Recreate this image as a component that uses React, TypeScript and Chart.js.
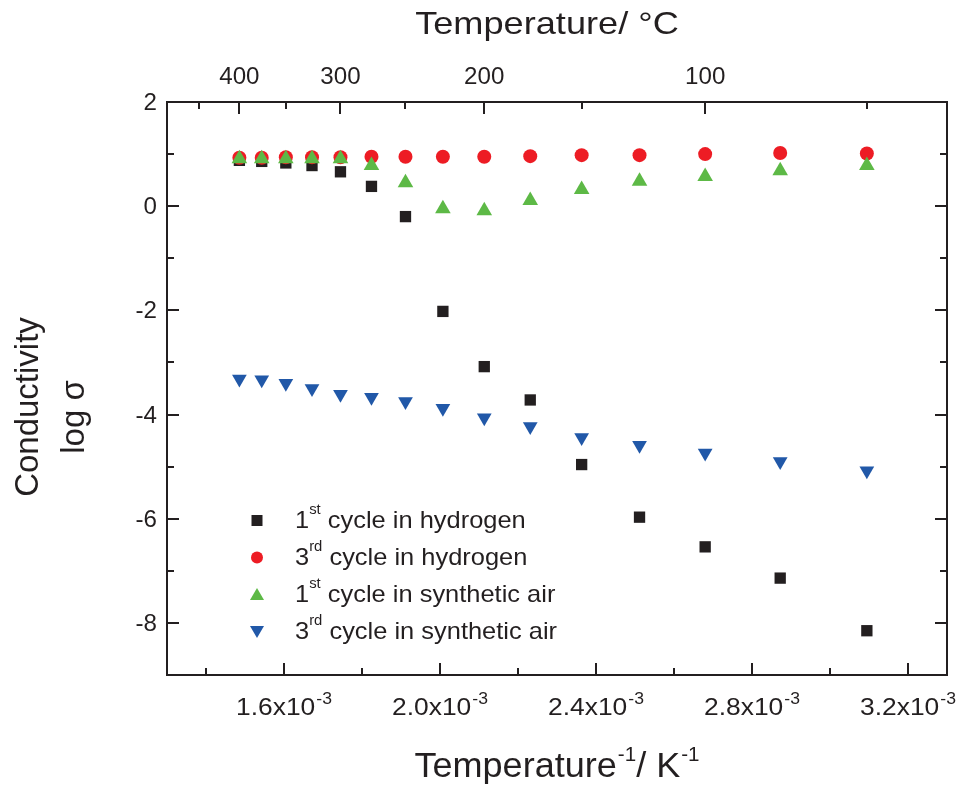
import React, { useEffect, useRef } from 'react';
import { Chart, registerables } from 'chart.js';

Chart.register(...registerables);

// Temperatures of the measurement points (°C) and the matching inverse temperature (10^-3 K^-1)
const TEMPS_C = [400, 375, 350, 325, 300, 275, 250, 225, 200, 175, 150, 125, 100, 75, 50];
const INV_T = [1.4856, 1.5429, 1.6047, 1.6718, 1.7448, 1.8243, 1.9115, 2.0074, 2.1135, 2.2314, 2.3632, 2.5116, 2.6799, 2.8723, 3.0945];

// log sigma series
const H2_CYCLE1 = [0.88, 0.86, 0.83, 0.78, 0.66, 0.38, -0.2, -2.02, -3.08, -3.72, -4.96, -5.97, -6.54, -7.14, -8.15];
const H2_CYCLE3 = [0.93, 0.93, 0.94, 0.94, 0.94, 0.95, 0.95, 0.95, 0.95, 0.96, 0.98, 0.98, 1.0, 1.02, 1.01];
const AIR_CYCLE1 = [0.91, 0.91, 0.91, 0.91, 0.91, 0.78, 0.45, -0.05, -0.09, 0.11, 0.32, 0.48, 0.57, 0.68, 0.78];
const AIR_CYCLE3 = [-3.32, -3.33, -3.4, -3.5, -3.61, -3.67, -3.75, -3.88, -4.06, -4.23, -4.44, -4.59, -4.74, -4.9, -5.08];

// Axis ticks
const BOTTOM_TICKS = [1.4, 1.6, 1.8, 2.0, 2.2, 2.4, 2.6, 2.8, 3.0, 3.2];
const BOTTOM_LABELS = ['', '1.6', '', '2.0', '', '2.4', '', '2.8', '', '3.2'];
const TOP_TICK_TEMPS = [450, 400, 350, 300, 250, 200, 150, 100, 50];
const TOP_TICK_POS = [1.3829, 1.4856, 1.6047, 1.7448, 1.9115, 2.1135, 2.3632, 2.6799, 3.0945];
const TOP_LABELS = ['', '400', '', '300', '', '200', '', '100', ''];
const Y_TICKS = [2, 1, 0, -1, -2, -3, -4, -5, -6, -7, -8, -9];
const Y_LABELS = ['2', '', '0', '', '-2', '', '-4', '', '-6', '', '-8', ''];

const LEGEND_ITEMS = [
  { n: '1', sup: 'st', rest: 'cycle in hydrogen', shape: 'rect', color: '#231f20' },
  { n: '3', sup: 'rd', rest: 'cycle in hydrogen', shape: 'circle', color: '#ed1c24' },
  { n: '1', sup: 'st', rest: 'cycle in synthetic air', shape: 'tri', color: '#5db946' },
  { n: '3', sup: 'rd', rest: 'cycle in synthetic air', shape: 'tridown', color: '#2158a8' },
];

const FONT = '"Liberation Sans", Arial, Helvetica, sans-serif';
const INK = '#231f20';

type Part = { text: string; sup?: boolean; gap?: number };

function drawRich(
  ctx: CanvasRenderingContext2D,
  parts: Part[],
  x: number,
  y: number,
  align: 'left' | 'center' | 'right',
  size: number,
  supSize: number,
  raise: number,
  stretch = 1
) {
  ctx.save();
  ctx.textAlign = 'left';
  ctx.textBaseline = 'alphabetic';
  let total = 0;
  const widths = parts.map((p) => {
    ctx.font = `${p.sup ? supSize : size}px ${FONT}`;
    const w = ctx.measureText(p.text).width;
    total += w + (p.gap || 0);
    return w;
  });
  const scaled = total * stretch;
  const startX = align === 'center' ? x - scaled / 2 : align === 'right' ? x - scaled : x;
  ctx.translate(startX, y);
  ctx.scale(stretch, 1);
  let cx = 0;
  parts.forEach((p, i) => {
    cx += p.gap || 0;
    ctx.font = `${p.sup ? supSize : size}px ${FONT}`;
    ctx.fillText(p.text, cx, p.sup ? -raise : 0);
    cx += widths[i];
  });
  ctx.restore();
}

function drawMarker(ctx: CanvasRenderingContext2D, shape: string, x: number, y: number, color: string) {
  ctx.fillStyle = color;
  ctx.beginPath();
  if (shape === 'rect') {
    ctx.rect(x - 5.5, y - 5.5, 11, 11);
  } else if (shape === 'circle') {
    ctx.arc(x, y, 6, 0, Math.PI * 2);
  } else if (shape === 'tri') {
    ctx.moveTo(x, y - 6.5);
    ctx.lineTo(x + 7, y + 5.5);
    ctx.lineTo(x - 7, y + 5.5);
    ctx.closePath();
  } else {
    ctx.moveTo(x, y + 6.5);
    ctx.lineTo(x + 7, y - 5.5);
    ctx.lineTo(x - 7, y - 5.5);
    ctx.closePath();
  }
  ctx.fill();
}

const decorPlugin = {
  id: 'decor',
  afterDraw(chart: any) {
    const ctx: CanvasRenderingContext2D = chart.ctx;
    const { left, right, top, bottom } = chart.chartArea;
    const sx = chart.scales.x;
    const sx2 = chart.scales.x2;
    const sy = chart.scales.y;
    const sy2 = chart.scales.y2;
    ctx.save();
    ctx.strokeStyle = INK;
    ctx.fillStyle = INK;
    ctx.lineWidth = 2;
    // frame
    ctx.strokeRect(left, top, right - left, bottom - top);
    // ticks
    ctx.beginPath();
    sx.ticks.forEach((t: any, i: number) => {
      const px = Math.round(sx.getPixelForTick(i));
      const len = BOTTOM_LABELS[i] ? 12 : 7;
      ctx.moveTo(px, bottom);
      ctx.lineTo(px, bottom - len);
    });
    sx2.ticks.forEach((t: any, i: number) => {
      const px = Math.round(sx2.getPixelForTick(i));
      const len = TOP_LABELS[i] ? 12 : 7;
      ctx.moveTo(px, top);
      ctx.lineTo(px, top + len);
    });
    sy.ticks.forEach((t: any, i: number) => {
      const py = Math.round(sy.getPixelForTick(i));
      const len = Y_LABELS[i] ? 12 : 7;
      ctx.moveTo(left, py);
      ctx.lineTo(left + len, py);
    });
    sy2.ticks.forEach((t: any, i: number) => {
      const py = Math.round(sy2.getPixelForTick(i));
      const len = Y_LABELS[i] ? 12 : 7;
      ctx.moveTo(right, py);
      ctx.lineTo(right - len, py);
    });
    ctx.stroke();

    // tick labels
    sx.ticks.forEach((t: any, i: number) => {
      if (!BOTTOM_LABELS[i]) return;
      const px = sx.getPixelForTick(i);
      drawRich(ctx, [{ text: BOTTOM_LABELS[i] + 'x10' }, { text: '-3', sup: true, gap: 1 }], px, 715, 'center', 24, 16, 11, 1.1);
    });
    sx2.ticks.forEach((t: any, i: number) => {
      if (!TOP_LABELS[i]) return;
      const px = sx2.getPixelForTick(i);
      drawRich(ctx, [{ text: TOP_LABELS[i] }], px, 84, 'center', 23, 16, 0, 1.05);
    });
    sy.ticks.forEach((t: any, i: number) => {
      if (!Y_LABELS[i]) return;
      const py = sy.getPixelForTick(i);
      drawRich(ctx, [{ text: Y_LABELS[i] }], left - 10, py + 8, 'right', 23, 16, 0, 1.05);
    });

    // axis titles
    drawRich(ctx, [{ text: 'Temperature/ °C' }], 547, 34, 'center', 32, 20, 0, 1.13);
    drawRich(
      ctx,
      [{ text: 'Temperature' }, { text: '-1', sup: true, gap: 1 }, { text: '/ K' }, { text: '-1', sup: true, gap: 1 }],
      557,
      777,
      'center',
      35,
      20,
      16,
      1.03
    );
    ctx.save();
    ctx.translate(38, 407);
    ctx.rotate(-Math.PI / 2);
    drawRich(ctx, [{ text: 'Conductivity' }], 0, 0, 'center', 33, 20, 0);
    ctx.restore();
    ctx.save();
    ctx.translate(84, 417);
    ctx.rotate(-Math.PI / 2);
    drawRich(ctx, [{ text: 'log σ' }], 0, 0, 'center', 33, 20, 0);
    ctx.restore();

    // legend
    LEGEND_ITEMS.forEach((it, i) => {
      const base = 527.5 + i * 37;
      drawMarker(ctx, it.shape, 257, base - 7, it.color);
      ctx.fillStyle = INK;
      drawRich(ctx, [{ text: it.n }, { text: it.sup, sup: true }, { text: ' ' + it.rest }], 295, base, 'left', 24, 14, 14, 1.06);
    });
    ctx.restore();
  },
};

function hiddenAxis(position: string, min: number, max: number, ticks: number[]) {
  return {
    type: 'linear' as const,
    position,
    min,
    max,
    afterBuildTicks: (s: any) => {
      s.ticks = ticks.map((v) => ({ value: v }));
    },
    ticks: { display: false },
    grid: { display: false, drawTicks: false },
    border: { display: false },
    title: { display: false },
  };
}

export default function App() {
  const ref = useRef<HTMLCanvasElement>(null);
  useEffect(() => {
    const pts = (ys: number[]) => INV_T.map((x, i) => ({ x, y: ys[i], t: TEMPS_C[i] }));
    const chart = new Chart(ref.current!, {
      type: 'scatter',
      data: {
        datasets: [
          {
            label: '1st cycle in hydrogen',
            data: pts(H2_CYCLE1),
            pointStyle: 'rect',
            pointRadius: 8,
            backgroundColor: '#231f20',
            borderWidth: 0,
            order: 2,
          },
          {
            label: '3rd cycle in hydrogen',
            data: pts(H2_CYCLE3),
            pointStyle: 'circle',
            pointRadius: 7,
            backgroundColor: '#ed1c24',
            borderWidth: 0,
            order: 1,
          },
          {
            label: '1st cycle in synthetic air',
            data: pts(AIR_CYCLE1),
            pointStyle: 'triangle',
            pointRadius: 9,
            backgroundColor: '#5db946',
            borderWidth: 0,
            order: 0,
          },
          {
            label: '3rd cycle in synthetic air',
            data: pts(AIR_CYCLE3),
            pointStyle: 'triangle',
            rotation: 180,
            pointRadius: 8.5,
            backgroundColor: '#2158a8',
            borderWidth: 0,
            order: 3,
          },
        ],
      },
      options: {
        animation: false,
        responsive: false,
        layout: { padding: { left: 167, right: 13, top: 102, bottom: 111 } },
        plugins: { legend: { display: false }, tooltip: { enabled: false }, title: { display: false } },
        scales: {
          x: hiddenAxis('bottom', 1.3, 3.3, BOTTOM_TICKS),
          x2: hiddenAxis('top', 1.3, 3.3, TOP_TICK_POS),
          y: hiddenAxis('left', -9, 2, Y_TICKS),
          y2: hiddenAxis('right', -9, 2, Y_TICKS),
        },
      } as any,
      plugins: [decorPlugin],
    });
    return () => chart.destroy();
  }, []);
  return (
    <div style={{ position: 'absolute', left: 0, top: 0, width: 960, height: 786, background: '#fff' }}>
      <canvas ref={ref} width={960} height={786} style={{ display: 'block', width: 960, height: 786 }} />
    </div>
  );
}
